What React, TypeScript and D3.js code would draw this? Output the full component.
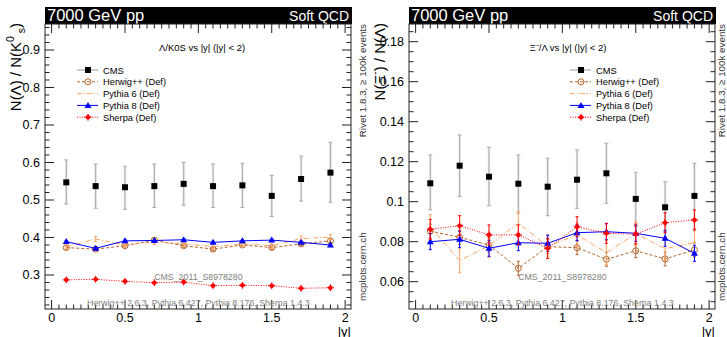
import React from 'react';
import * as d3 from 'd3';

// |y| bin centres
const yBins = [0.1, 0.3, 0.5, 0.7, 0.9, 1.1, 1.3, 1.5, 1.7, 1.9];

// Lambda / K0S
const cmsL = [0.547, 0.537, 0.534, 0.537, 0.543, 0.537, 0.539, 0.511, 0.556, 0.573];
const cmsLHi = [0.607, 0.596, 0.59, 0.596, 0.6, 0.596, 0.598, 0.566, 0.617, 0.654];
const cmsLLo = [0.489, 0.478, 0.475, 0.48, 0.486, 0.48, 0.48, 0.456, 0.497, 0.494];
const herwigL = [0.373, 0.369, 0.378, 0.393, 0.378, 0.369, 0.38, 0.373, 0.383, 0.391];
const py6L = [0.375, 0.396, 0.38, 0.388, 0.383, 0.376, 0.383, 0.378, 0.397, 0.401];
const py8L = [0.389, 0.371, 0.391, 0.392, 0.394, 0.387, 0.391, 0.393, 0.387, 0.38];
const sherpaL = [0.287, 0.2885, 0.283, 0.2795, 0.281, 0.2715, 0.2725, 0.2715, 0.2645, 0.266];

// Xi- / Lambda
const cmsR = [0.1092, 0.118, 0.1125, 0.109, 0.1075, 0.111, 0.1142, 0.1014, 0.0972, 0.1029];
const cmsRHi = [0.1234, 0.1334, 0.1272, 0.1234, 0.1217, 0.1259, 0.1292, 0.1147, 0.11, 0.1192];
const cmsRLo = [0.0959, 0.1025, 0.098, 0.0942, 0.093, 0.0967, 0.0992, 0.0875, 0.085, 0.0865];
const herwigR = [0.0853, 0.0822, 0.0783, 0.0667, 0.0775, 0.077, 0.0712, 0.0755, 0.0714, 0.0759];
const py6R = [0.0875, 0.0705, 0.078, 0.0893, 0.0775, 0.0835, 0.0745, 0.084, 0.0765, 0.0795];
const py8R = [0.08, 0.0812, 0.0767, 0.0795, 0.0792, 0.0845, 0.085, 0.0842, 0.0817, 0.0742];
const sherpaR = [0.0862, 0.088, 0.0834, 0.0834, 0.0767, 0.0875, 0.0842, 0.0838, 0.0895, 0.0909];

const xTicks = [0, 0.5, 1, 1.5, 2];
const yTicksL = [0.3, 0.4, 0.5, 0.6, 0.7, 0.8, 0.9];
const yTicksR = [0.06, 0.08, 0.1, 0.12, 0.14, 0.16, 0.18];
const legendNames = ['CMS', 'Herwig++ (Def)', 'Pythia 6 (Def)', 'Pythia 8 (Def)', 'Sherpa (Def)'];

const FONT = '"Liberation Sans", Arial, Helvetica, sans-serif';
const C_HW = '#b5662c';
const C_P6 = '#ffa262';
const C_P8 = '#0000ff';
const C_SH = '#ff0000';

const fmt = (v: number) => String(+v.toFixed(3));

function Marker({ kind, x, y, color }: any) {
  if (kind === 'square') return <rect x={x - 3} y={y - 3} width={6} height={6} fill="#000" />;
  if (kind === 'circle') return <circle cx={x} cy={y} r={3} fill="none" stroke={color} strokeWidth={1} />;
  if (kind === 'tri') return <path d={`M${x},${y - 3.5}L${x + 3.5},${y + 2.5}L${x - 3.5},${y + 2.5}Z`} fill={color} />;
  if (kind === 'star')
    return (
      <g>
        <circle cx={x} cy={y} r={2.3} fill={color} />
        <path d={`M${x - 3.5},${y}H${x + 3.5}M${x},${y - 3.5}V${y + 3.5}`} stroke={color} strokeWidth={1} />
      </g>
    );
  return null;
}

function Panel({ ox, right, yDomain, yTicks, yMinor, cms, cmsHi, cmsLo, mc, errs, title, titleX, yTitle, legendX, sideX }: any) {
  const x0 = ox + 45, x1 = ox + right, y0 = 24, y1 = 309;
  const x = d3.scaleLinear().domain([-0.045, 2.04]).range([x0, x1]);
  const y = d3.scaleLinear().domain(yDomain).range([y1, y0]);
  const minorX = d3.range(0, 2.041, 0.05);
  const minorY = d3.range(Math.ceil(yDomain[0] / yMinor) * yMinor, yDomain[1], yMinor);
  const styles = [
    { c: C_HW, dash: '3,2', m: 'circle' },
    { c: C_P6, dash: '5,2,1,2', m: 'none' },
    { c: C_P8, dash: null, m: 'tri' },
    { c: C_SH, dash: '1,1.5', m: 'star' },
  ];
  const line = (vals: number[]) => d3.line<number>().x((_, i) => x(yBins[i])).y((v) => y(v))(vals) || '';
  const ax = '#222';
  return (
    <g fontFamily={FONT}>
      {/* header */}
      <rect x={x0} y={7} width={x1 - x0 + 1} height={17} fill="#000" />
      <text x={x0 + 2} y={21} fill="#fff" fontSize={16.5}>7000 GeV pp</text>
      <text x={x1 - 2} y={21} fill="#fff" fontSize={14} textAnchor="end">Soft QCD</text>

      {/* frame */}
      <rect x={x0} y={y0} width={x1 - x0} height={y1 - y0} fill="none" stroke={ax} strokeWidth={1} />
      {minorX.map((v: number) => {
        const big = xTicks.some((t) => Math.abs(t - v) < 1e-6);
        const len = big ? 9 : 4.5;
        return (
          <g key={'mx' + v} stroke={ax}>
            <line x1={x(v)} x2={x(v)} y1={y1} y2={y1 - len} />
            <line x1={x(v)} x2={x(v)} y1={y0} y2={y0 + len} />
          </g>
        );
      })}
      {minorY.map((v: number) => {
        const big = yTicks.some((t: number) => Math.abs(t - v) < 1e-6);
        const len = big ? 9 : 4.5;
        return (
          <g key={'my' + v} stroke={ax}>
            <line x1={x0} x2={x0 + len} y1={y(v)} y2={y(v)} />
            <line x1={x1} x2={x1 - len} y1={y(v)} y2={y(v)} />
          </g>
        );
      })}
      {xTicks.map((t) => (
        <text key={'xl' + t} x={x(t)} y={321.5} fontSize={12.5} textAnchor="middle">{fmt(t)}</text>
      ))}
      {yTicks.map((t: number) => (
        <text key={'yl' + t} x={x0 - 5} y={y(t) + 4.5} fontSize={12.5} textAnchor="end">{fmt(t)}</text>
      ))}
      <text x={x1} y={335.5} fontSize={13} textAnchor="end">|y|</text>
      <text transform={`translate(${ox + 21},${y0 - 1}) rotate(-90)`} fontSize={15} textAnchor="end">{yTitle}</text>

      {/* side labels */}
      <text transform={`translate(${sideX},${y0}) rotate(-90)`} fontSize={9.8} fill="#333" textAnchor="end">Rivet 1.8.3, ≥ 100k events</text>
      <text transform={`translate(${sideX},${y1 - 8}) rotate(-90)`} fontSize={9.8} fill="#333">mcplots.cern.ch</text>

      <text x={titleX} y={51} fontSize={9.5} textAnchor="middle">{title}</text>

      {/* bottom info */}
      <text x={x(1)} y={280} fontSize={8.8} fill="#808080" textAnchor="middle">CMS_2011_S8978280</text>
      <text x={x(1)} y={306} fontSize={8.8} fill="#808080" textAnchor="middle">Herwig++ 2.6.3, Pythia 6.427, Pythia 8.176, Sherpa 1.4.3</text>

      {/* CMS data */}
      {cms.map((v: number, i: number) => (
        <g key={'c' + i}>
          <line x1={x(yBins[i])} x2={x(yBins[i])} y1={y(cmsHi[i])} y2={y(cmsLo[i])} stroke="#e8e8e8" strokeWidth={2.5} />
          <line x1={x(yBins[i])} x2={x(yBins[i])} y1={y(cmsHi[i])} y2={y(cmsLo[i])} stroke="#aaa" strokeWidth={1} />
          <line x1={x(yBins[i]) - 2} x2={x(yBins[i]) + 2} y1={y(cmsHi[i])} y2={y(cmsHi[i])} stroke="#aaa" />
          <line x1={x(yBins[i]) - 2} x2={x(yBins[i]) + 2} y1={y(cmsLo[i])} y2={y(cmsLo[i])} stroke="#aaa" />
        </g>
      ))}

      {/* MC */}
      {mc.map((vals: number[], k: number) => {
        const s = styles[k];
        return (
          <g key={'mc' + k}>
            <path d={line(vals)} fill="none" stroke={s.c} strokeWidth={1} strokeDasharray={s.dash || undefined} />
            {vals.map((v, i) => (
              <g key={i} stroke={s.c} strokeWidth={1}>
                <line x1={x(yBins[i])} x2={x(yBins[i])} y1={y(v + errs[k])} y2={y(v - errs[k])} />
                <line x1={x(yBins[i]) - 1.5} x2={x(yBins[i]) + 1.5} y1={y(v + errs[k])} y2={y(v + errs[k])} />
                <line x1={x(yBins[i]) - 1.5} x2={x(yBins[i]) + 1.5} y1={y(v - errs[k])} y2={y(v - errs[k])} />
              </g>
            ))}
            {vals.map((v, i) => (
              <Marker key={'m' + i} kind={s.m} x={x(yBins[i])} y={y(v)} color={s.c} />
            ))}
          </g>
        );
      })}
      {cms.map((v: number, i: number) => (
        <Marker key={'cm' + i} kind="square" x={x(yBins[i])} y={y(v)} />
      ))}

      {/* legend */}
      {legendNames.map((name, i) => {
        const ly = 70 + i * 11.8;
        const lx = ox + legendX;
        const s = i === 0 ? { c: '#999', dash: null, m: 'square' } : styles[i - 1];
        return (
          <g key={'lg' + i}>
            <line x1={lx - 11} x2={lx + 10} y1={ly} y2={ly} stroke={s.c} strokeDasharray={s.dash || undefined} />
            <Marker kind={s.m} x={lx} y={ly} color={s.c} />
            <text x={lx + 15} y={ly + 3.5} fontSize={9.3}>{name}</text>
          </g>
        );
      })}
    </g>
  );
}

export default function App() {
  return (
    <svg width={727} height={337} style={{ position: 'absolute', left: 0, top: 0, background: '#fff' }}>
      <Panel
        ox={0}
        right={351}
        sideX={366}
        yDomain={[0.2093, 0.9693]}
        yTicks={yTicksL}
        yMinor={0.02}
        cms={cmsL}
        cmsHi={cmsLHi}
        cmsLo={cmsLLo}
        mc={[herwigL, py6L, py8L, sherpaL]}
        errs={[0.004, 0.007, 0.003, 0.002]}
        title="Λ/K0S vs |y| (|y| < 2)"
        titleX={202}
        legendX={88}
        yTitle={
          <>
            N(Λ) / N(K<tspan dy={-7} fontSize={10.5}>0</tspan>
            <tspan dy={11} fontSize={10.5}> s</tspan>
            <tspan dy={-4}>)</tspan>
          </>
        }
      />
      <Panel
        ox={364}
        right={351}
        sideX={724.5}
        yDomain={[0.04635, 0.18885]}
        yTicks={yTicksR}
        yMinor={0.005}
        cms={cmsR}
        cmsHi={cmsRHi}
        cmsLo={cmsRLo}
        mc={[herwigR, py6R, py8R, sherpaR]}
        errs={[0.0035, 0.006, 0.004, 0.005]}
        title="Ξ⁻/Λ vs |y| (|y| < 2)"
        titleX={568}
        legendX={217}
        yTitle={
          <>
            N(Ξ<tspan dy={-7} fontSize={10.5}>-</tspan>
            <tspan dy={7}>) / N(Λ)</tspan>
          </>
        }
      />
    </svg>
  );
}
